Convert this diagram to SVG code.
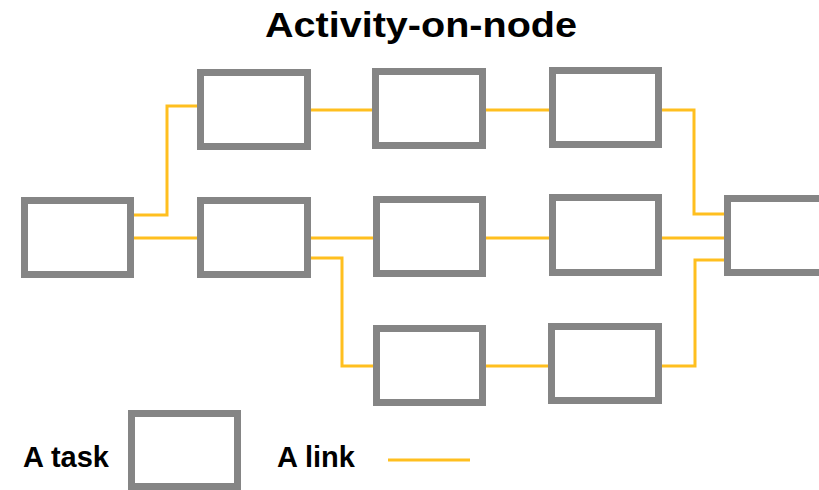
<svg xmlns="http://www.w3.org/2000/svg" width="819" height="490" viewBox="0 0 819 490">
<style>
.node{fill:#fff;stroke:#858585;stroke-width:7}
.link{fill:none;stroke:#FFBF1F;stroke-width:3}
.title{font-family:"Liberation Sans",Arial,sans-serif;font-weight:bold;font-size:35px;fill:#000}
.lbl{font-family:"Liberation Sans",Arial,sans-serif;font-weight:bold;font-size:29px;fill:#000}
</style>
<rect width="819" height="490" fill="#fff"/>
<text class="title" x="265" y="37" textLength="312" lengthAdjust="spacingAndGlyphs">Activity-on-node</text>
<g id="connectors">
<polyline class="link" points="134,215 167,215 167,106 197,106"/>
<line class="link" x1="134" y1="238" x2="197" y2="238"/>
<line class="link" x1="311" y1="110" x2="372" y2="110"/>
<line class="link" x1="486" y1="110" x2="549" y2="110"/>
<polyline class="link" points="662,110 694,110 694,214 724,214"/>
<line class="link" x1="311" y1="238" x2="373" y2="238"/>
<line class="link" x1="486" y1="238" x2="549" y2="238"/>
<line class="link" x1="662" y1="238" x2="724" y2="238"/>
<polyline class="link" points="311,258 342,258 342,366 373,366"/>
<line class="link" x1="486" y1="366" x2="548" y2="366"/>
<polyline class="link" points="662,366 695,366 695,260 724,260"/>
</g>
<g id="n0"><rect class="node" x="24.5" y="200.5" width="106" height="74"/></g>
<g id="n1"><rect class="node" x="200.5" y="72.5" width="107" height="74"/></g>
<g id="n2"><rect class="node" x="375.5" y="71.5" width="107" height="74"/></g>
<g id="n3"><rect class="node" x="552.5" y="70.5" width="106" height="74"/></g>
<g id="n4"><rect class="node" x="200.5" y="200.5" width="107" height="74"/></g>
<g id="n5"><rect class="node" x="376.5" y="199.5" width="106" height="74"/></g>
<g id="n6"><rect class="node" x="552.5" y="197.5" width="106" height="75"/></g>
<g id="n7"><rect class="node" x="727.5" y="198.5" width="107" height="74"/></g>
<g id="n8"><rect class="node" x="376.5" y="328.5" width="106" height="74"/></g>
<g id="n9"><rect class="node" x="551.5" y="326.5" width="107" height="74"/></g>
<g id="legend">
<text class="lbl" x="23" y="467">A task</text>
<rect class="node" x="131.5" y="413.5" width="106" height="73"/>
<text class="lbl" x="277" y="467">A link</text>
<line class="link" x1="388" y1="460" x2="470" y2="460"/>
</g>
</svg>
